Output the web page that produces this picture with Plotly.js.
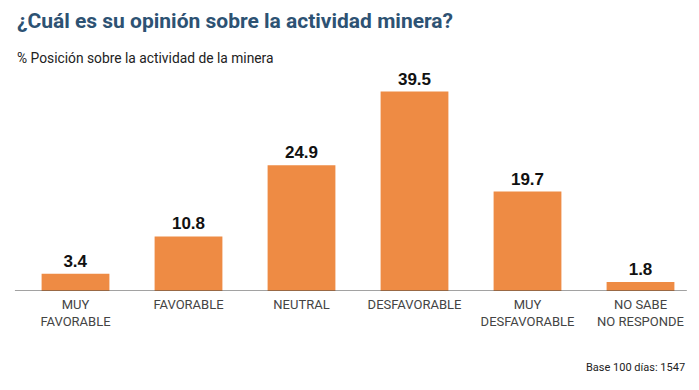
<!DOCTYPE html>
<html><head><meta charset="utf-8">
<script src="https://cdn.plot.ly/plotly-3.0.1.min.js"></script>
<style>body{margin:0;background:#fff}#c{width:699px;height:390px}</style>
</head><body><div id="c"></div>
<script>
const categories = ["MUY<br>FAVORABLE","FAVORABLE","NEUTRAL","DESFAVORABLE","MUY<br>DESFAVORABLE","NO SABE<br>NO RESPONDE"];
const values = [3.4, 10.8, 24.9, 39.5, 19.7, 1.8];
const valueLabels = ["3.4","10.8","24.9","39.5","19.7","1.8"];

const trace = {
  type: 'bar', x: categories, y: values,
  marker: {color: '#EE8B44'},
  text: valueLabels.map(t => '<b>' + t + '</b>'), textposition: 'outside',
  textfont: {family: 'Liberation Sans, Arial', size: 17, color: '#111'},
  cliponaxis: false, hoverinfo: 'none'
};
const layout = {
  width: 699, height: 390,
  margin: {l: 19, r: 2, t: 89.4, b: 98.6},
  paper_bgcolor: '#fff', plot_bgcolor: '#fff',
  bargap: 0.4,
  showlegend: false,
  xaxis: {showline: false, ticks: '', showgrid: false, zeroline: false, ticklabelstandoff: 4,
    tickfont: {family: 'Roboto, Liberation Sans', size: 13, color: '#444'}},
  yaxis: {range: [0, 40], visible: false, showgrid: false, zeroline: false},
  shapes: [{type: 'line', xref: 'paper', yref: 'y', x0: -0.006, x1: 0.985, y0: 0, y1: 0,
    line: {color: '#444', width: 1}}],
  annotations: [
    {text: '<b>¿Cuál es su opinión sobre la actividad minera?</b>', xref: 'paper', yref: 'paper',
     x: -0.006, y: 1, xanchor: 'left', yanchor: 'middle', yshift: 68, showarrow: false,
     font: {family: 'Roboto, Liberation Sans', size: 21, color: '#2D5273'}},
    {text: '% Posición sobre la actividad de la minera', xref: 'paper', yref: 'paper',
     x: -0.006, y: 1, xanchor: 'left', yanchor: 'middle', yshift: 31, showarrow: false,
     font: {family: 'Roboto, Liberation Sans', size: 13.8, color: '#222'}},
    {text: 'Base 100 días: 1547', xref: 'paper', yref: 'paper',
     x: 0.985, y: 0, xanchor: 'right', yanchor: 'middle', yshift: -76, showarrow: false,
     font: {family: 'Roboto, Liberation Sans', size: 11, color: '#222'}}
  ]
};
Plotly.newPlot('c', [trace], layout, {displayModeBar: false, staticPlot: true});
</script></body></html>
